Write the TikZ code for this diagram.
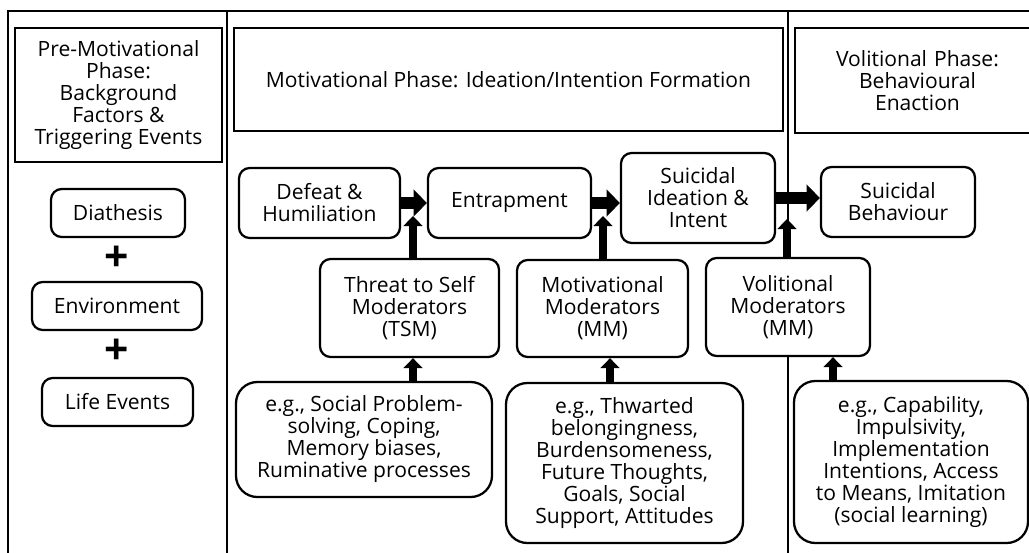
\documentclass[tikz,border=0pt]{standalone}
\usepackage{fontspec}
\setmainfont{Open Sans}
\usetikzlibrary{arrows.meta}
\tikzset{
    wh/.style 2 args={minimum width=#1*0.75pt, minimum height=#2*0.75pt},
    phase/.style={draw, line width=1.7pt, fill=white, align=center,
        inner sep=1pt, font=\fontsize{15.8}{16.5}\selectfont},
    factor/.style={phase, rounded corners=8pt},
    example/.style={phase, rounded corners=16pt},
    plus/.style={font=\fontsize{32}{32}\selectfont\bfseries, inner sep=0pt},
    frame/.style={line width=1.7pt},
    bigarrow/.style={line width=9pt, -{Triangle[length=10pt,width=20pt]}},
    uparrow/.style={line width=6.5pt, -{Triangle[length=7.5pt,width=14pt]}},
    >=LaTeX
}

\begin{document}
\begin{tikzpicture}[x=0.75pt, y=-0.75pt]

\useasboundingbox (0,0) rectangle (1029,553);

\draw[frame] (8,565) -- (8,11) -- (1040,11);
\draw[frame] (227,11) -- (227,565);
\draw[frame] (788,11) -- (788,565);

\node[phase, wh={207}{134}] (Pre) at (118.5,95) {Pre-Motivational\\Phase:\\Background\\Factors \&\\Triggering Events};

\node[phase, wh={549}{103}] (Mot) at (508.5,79.5) {Motivational Phase: Ideation/Intention Formation};

\node[phase, wh={245}{105}, text width=180pt] (Vol) at (917.5,80.5) {Volitional Phase:\\Behavioural\\Enaction};

\node[factor, wh={134}{48}] (P1) at (118,213) {Diathesis};

\node[plus] (plus1) at (117,259) {+};

\node[factor, wh={170}{48}] (P2) at (117,306) {Environment};

\node[plus] (plus2) at (117,352) {+};

\node[factor, wh={151}{48}] (P3) at (117.5,402) {Life Events};

\node[factor, wh={161}{70}] (M1) at (319.5,203) {Defeat \&\\Humiliation};

\node[factor, wh={163}{70}] (M2) at (509.5,203) {Entrapment};

\node[factor, wh={154}{90}] (M3) at (698,198) {Suicidal\\Ideation \&\\Intent};

\node[factor, wh={154}{70}] (V1) at (898,202) {Suicidal\\Behaviour};

\node[factor, wh={179}{98}] (TSM) at (409.5,308) {Threat to Self\\Moderators\\(TSM)};

\node[factor, wh={171}{97}] (MM) at (602.5,308.5) {Motivational\\Moderators\\(MM)};

\node[factor, wh={164}{98}] (VM) at (788,307) {Volitional\\Moderators\\(MM)};

\node[example, wh={256}{115}] (E1) at (364,439.5) {e.g., Social Problem-\\solving, Coping,\\Memory biases,\\Ruminative processes};

\node[example, wh={237}{160}] (E2) at (624.5,463) {e.g., Thwarted\\belongingness,\\Burdensomeness,\\Future Thoughts,\\Goals, Social\\Support, Attitudes};

\node[example, wh={234}{162}] (E3) at (911,462) {e.g., Capability,\\Impulsivity,\\Implementation\\Intentions, Access\\to Means, Imitation\\(social learning)};

\coordinate (J1) at (413,216);
\coordinate (J2) at (603,216);
\coordinate (J3) at (787,219);

\draw[uparrow] (TSM.north -| J1) -- (J1);
\draw[uparrow] (MM.north -| J2) -- (J2);
\draw[uparrow] (VM.north -| J3) -- (J3);

\draw[bigarrow] (M1.east) -- (M2.west);
\draw[bigarrow] (M2.east) -- (M2.east -| M3.west);
\draw[bigarrow] (M3.east) -- (M3.east -| V1.west);

\draw[uparrow] (E1.north -| J1) -- (TSM.south -| J1);
\draw[uparrow] (E2.north -| 610,0) -- (MM.south -| 610,0);
\draw[uparrow] (E3.north -| 833,0) -- (VM.south -| 833,0);

\end{tikzpicture}
\end{document}
